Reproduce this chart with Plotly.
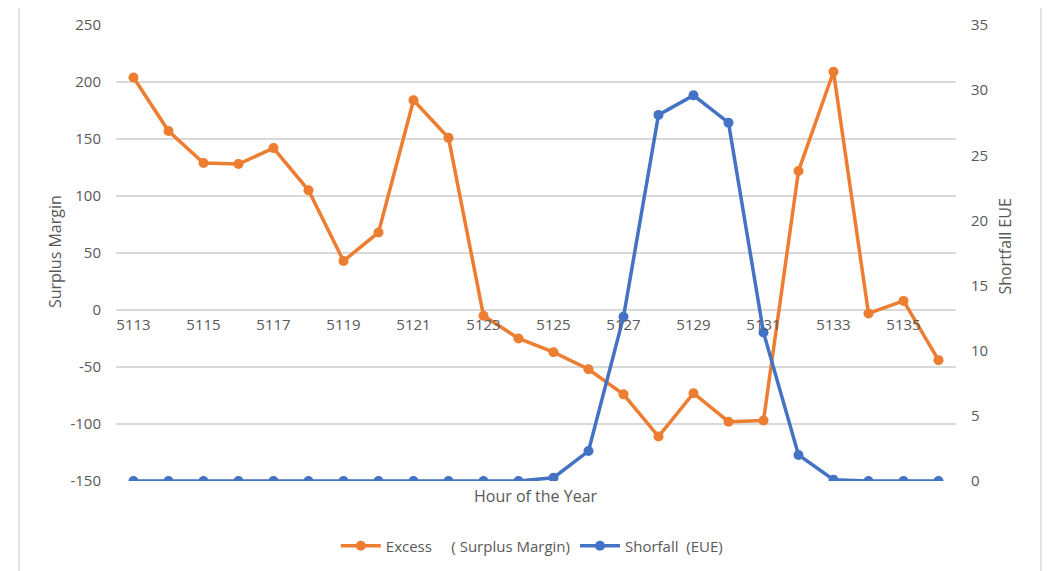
import plotly.graph_objects as go

hours = list(range(5113, 5137))
excess = [204, 157, 129, 128, 142, 105, 43, 68, 184, 151, -5, -25, -37, -52, -74, -111,
          -73, -98, -97, 122, 209, -3, 8, -44]
shortfall = [0, 0, 0, 0, 0, 0, 0, 0, 0, 0, 0, 0, 0.25, 2.3, 12.6, 28.1, 29.6, 27.5, 11.4,
             2.0, 0.1, 0, 0, 0]
x_ticks = list(range(5113, 5137, 2))
left_ticks = list(range(-150, 251, 50))
right_ticks = list(range(0, 36, 5))

ORANGE = "#ED7D31"
BLUE = "#4472C4"
TXT = "#595959"
GRID = "#D9D9D9"
FONT = "Open Sans"

fig = go.Figure()
fig.add_trace(go.Scatter(
    x=hours, y=excess, mode="lines+markers",
    name="Excess\u00a0\u00a0\u00a0\u00a0\u00a0( Surplus Margin)",
    line=dict(color=ORANGE, width=3.5), marker=dict(color=ORANGE, size=10),
    yaxis="y"))
fig.add_trace(go.Scatter(
    x=hours, y=shortfall, mode="lines+markers",
    name="Shorfall\u00a0\u00a0(EUE)",
    line=dict(color=BLUE, width=3.5), marker=dict(color=BLUE, size=10),
    yaxis="y2"))

fig.update_layout(
    width=1056, height=571,
    margin=dict(l=108, r=108, t=17, b=98, autoexpand=False),
    paper_bgcolor="white", plot_bgcolor="white",
    font=dict(family=FONT, color=TXT, size=15),
    showlegend=True,
    legend=dict(orientation="h", x=0.495, xanchor="center", y=-0.1425, yanchor="middle",
                font=dict(size=15, color=TXT), itemwidth=40, tracegroupgap=0,
                bgcolor="rgba(0,0,0,0)"),
    xaxis=dict(range=[5112.5, 5136.5], tickvals=x_ticks, ticktext=[str(t) for t in x_ticks],
               showgrid=False, zeroline=False, showline=False, ticks="",
               anchor="free", position=0.375, ticklabelstandoff=4, automargin=False,
               tickfont=dict(size=15, color=TXT)),
    yaxis=dict(range=[-150, 250], tickvals=left_ticks, ticktext=[str(t) for t in left_ticks],
               showgrid=True, gridcolor=GRID, automargin=False,
               gridwidth=1.5, zeroline=False, showline=False, ticks="",
               ticklabelstandoff=14, tickfont=dict(size=15, color=TXT)),
    yaxis2=dict(range=[0, 35], tickvals=right_ticks, ticktext=[str(t) for t in right_ticks],
                overlaying="y", side="right", automargin=False,
                showgrid=False, zeroline=False, showline=False, ticks="",
                ticklabelstandoff=14, tickfont=dict(size=15, color=TXT)),
)

fig.add_annotation(text="Hour of the Year", xref="paper", yref="paper", x=0.5, y=-0.033,
                   xanchor="center", yanchor="middle", showarrow=False,
                   font=dict(size=16, color=TXT))
fig.add_annotation(text="Surplus Margin", xref="paper", yref="paper", x=-0.0726, y=0.502,
                   xanchor="center", yanchor="middle", showarrow=False, textangle=-90,
                   font=dict(size=16, color=TXT))
fig.add_annotation(text="Shortfall EUE", xref="paper", yref="paper", x=1.0583, y=0.514,
                   xanchor="center", yanchor="middle", showarrow=False, textangle=-90,
                   font=dict(size=16, color=TXT))

fig.add_shape(type="rect", xref="paper", yref="paper", x0=-0.1155, x1=1.1012,
              y0=-0.3, y1=1.0417, line=dict(color=GRID, width=1.5), fillcolor="rgba(0,0,0,0)",
              layer="below")

fig.write_html("out.html")
